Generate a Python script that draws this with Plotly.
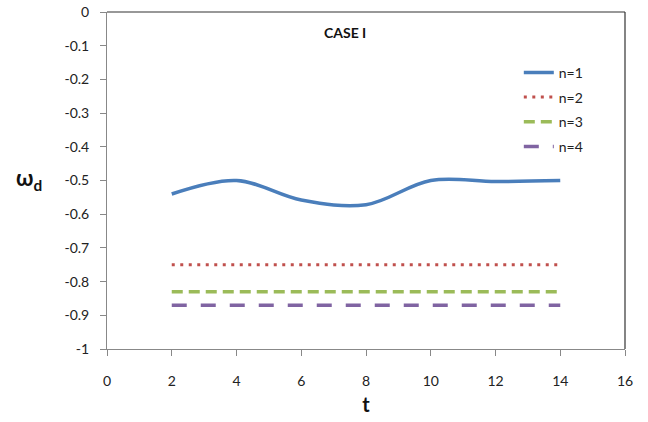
import plotly.graph_objects as go

# Time samples and dimensionless frequency omega_d for each mode n
t = [2, 4, 6, 8, 10, 12, 14]
omega_n1 = [-0.54, -0.50, -0.558, -0.572, -0.50, -0.503, -0.50]
omega_n2 = [-0.75] * len(t)
omega_n3 = [-0.83] * len(t)
omega_n4 = [-0.87] * len(t)

series_names = ["n=1", "n=2", "n=3", "n=4"]
x_ticks = [0, 2, 4, 6, 8, 10, 12, 14, 16]
y_ticks = [0, -0.1, -0.2, -0.3, -0.4, -0.5, -0.6, -0.7, -0.8, -0.9, -1]
y_tick_text = ["0", "-0.1", "-0.2", "-0.3", "-0.4", "-0.5", "-0.6", "-0.7", "-0.8", "-0.9", "-1"]

FONT = "Lato, 'Open Sans', sans-serif"

fig = go.Figure()
fig.add_trace(go.Scatter(x=t, y=omega_n1, name=series_names[0], mode="lines", legendgroup="g1",
                         line=dict(color="#4A7EBB", width=3.5, shape="spline", smoothing=1.0)))
fig.add_trace(go.Scatter(x=t, y=omega_n2, name=series_names[1], mode="lines", legendgroup="g2",
                         line=dict(color="#C0504D", width=3, dash="3px,5.5px")))
fig.add_trace(go.Scatter(x=t, y=omega_n3, name=series_names[2], mode="lines", legendgroup="g3",
                         line=dict(color="#9BBB59", width=3.5, dash="11px,6px")))
fig.add_trace(go.Scatter(x=t, y=omega_n4, name=series_names[3], mode="lines", legendgroup="g4",
                         line=dict(color="#8064A2", width=3.5, dash="15px,14px")))

fig.update_layout(
    width=648, height=422,
    margin=dict(l=107, r=23, t=12, b=73, autoexpand=False),
    paper_bgcolor="white", plot_bgcolor="white",
    font=dict(family=FONT, size=14, color="#222222"),
    showlegend=True,
    legend=dict(x=0.795, y=0.867, xanchor="left", yanchor="top",
                bgcolor="rgba(0,0,0,0)", font=dict(size=14, family=FONT),
                tracegroupgap=3.5),
    xaxis=dict(range=[0, 16], tickvals=x_ticks, showgrid=False, zeroline=False,
               showline=True, linecolor="#888888", linewidth=1, automargin=False,
               ticks="outside", ticklen=6, tickcolor="#888888",
               ticklabelstandoff=13,
               title=dict(text="<b>t</b>", font=dict(size=20, family=FONT, color="#111111"), standoff=10)),
    yaxis=dict(range=[-1, 0], tickvals=y_ticks, ticktext=y_tick_text, showgrid=False, zeroline=False,
               showline=True, linecolor="#888888", linewidth=1, automargin=False,
               ticks="outside", ticklen=6, tickcolor="#888888",
               ticklabelstandoff=8),
    annotations=[
        dict(text="<b>CASE I</b>", x=0.459, y=0.94, xref="paper", yref="paper",
             xanchor="center", yanchor="middle",
             showarrow=False, font=dict(size=14, family=FONT, color="#111111")),
        dict(text="<b>ω<sub>d</sub></b>", x=-0.15, y=0.505, xref="paper", yref="paper",
             xanchor="center", yanchor="middle",
             showarrow=False, font=dict(size=22, family=FONT, color="#111111")),
    ],
    shapes=[
        dict(type="line", xref="paper", yref="paper", x0=0, x1=1, y0=1, y1=1,
             line=dict(color="#333333", width=1.2)),
        dict(type="line", xref="paper", yref="paper", x0=1, x1=1, y0=0, y1=1,
             line=dict(color="#333333", width=1.2)),
    ],
)

fig.write_html("out.html")
